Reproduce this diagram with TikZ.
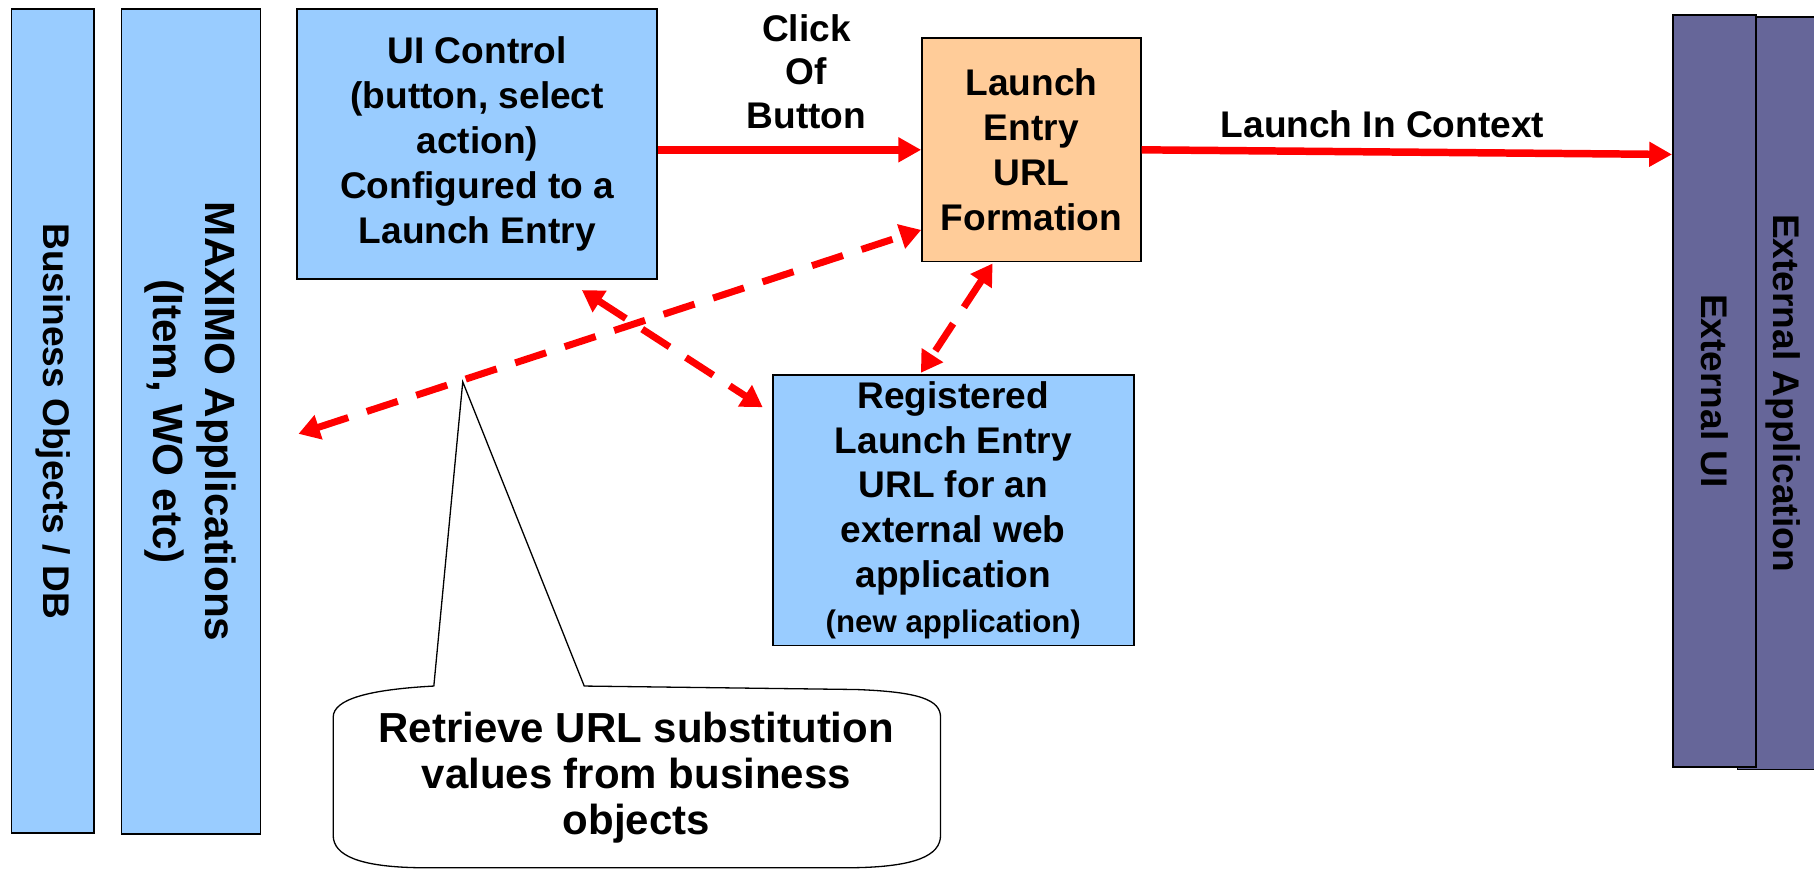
\documentclass[tikz,border=0pt]{standalone}
\usepackage{fontspec}
\setmainfont{Liberation Sans}
\usetikzlibrary{arrows.meta,calc}
\definecolor{paleblue}{HTML}{99CCFF}
\definecolor{peach}{HTML}{FFCC99}
\definecolor{slate}{HTML}{666699}
\begin{document}
\begin{tikzpicture}[x=0.025cm,y=-0.025cm,
    font=\bfseries\fontsize{22.8}{27.6}\selectfont,
    box/.style={draw=black,line width=1pt,align=center,inner sep=0pt},
    bluebox/.style={box,fill=paleblue},
    bar/.style={box,rotate=-90},
    redline/.style={red,line width=4.6pt,-{Triangle[length=14pt,width=14.5pt]}},
    reddash/.style={red,line width=4.3pt,{Triangle[length=13pt,width=15pt]}-{Triangle[length=13pt,width=15pt]},dash pattern=on 20pt off 12pt}]
      \useasboundingbox (0,0) rectangle (1568,752);
      \node[bar,fill=paleblue,minimum width=17.8cm,minimum height=1.775cm] at (45.5,364) (bo) {Business Objects / DB};
      \node[bar,fill=paleblue,minimum width=17.825cm,minimum height=3cm,font=\bfseries\fontsize{26}{32}\selectfont] at (165,364.5) (maximo) {MAXIMO Applications\\(Item, WO etc)};
      \node[bluebox,minimum width=7.775cm,minimum height=5.825cm] at (412.5,124.5) (ui) {UI Control\\(button, select\\action)\\Configured to a\\Launch Entry};
      \node[box,fill=peach,minimum width=4.725cm,minimum height=4.825cm] at (891.5,129.5) (launch) {Launch\\Entry\\URL\\Formation};
      \node[bluebox,minimum width=7.8cm,minimum height=5.85cm] at (824,441) (reg) {Registered\\Launch Entry\\URL for an\\external web\\application\\{\fontsize{19.2}{24}\selectfont(new application)}};
      \node[bar,fill=slate,minimum width=16.25cm,minimum height=1.95cm] at (1541,340) (extapp) {External Application};
      \node[bar,fill=slate,minimum width=16.25cm,minimum height=1.8cm] at (1482,338) (extui) {External UI};
      \node[align=center,font=\bfseries\fontsize{22.8}{26.7}\selectfont] at (697,62) (click) {Click\\Of\\Button};
      \node at (1195,107) (context) {Launch In Context};
      \draw[redline] (ui.east |- launch.west) -- (launch.west);
      \draw[redline] (launch.east) -- ($(launch.east -| extui.south)+(0,4)$);
      \coordinate (mxend) at (258,375);
      \draw[reddash] (mxend) -- ($(launch.south west)+(0,-28)$);
      \draw[reddash] ($(ui.south)+(90.5,9)$) -- ($(reg.west)+(-8,-89)$);
      \draw[reddash] ($(launch.south)+(-33.5,1)$) -- ($(reg.north)+(-28,-1)$);
      \coordinate (tip) at (400,330);
      \draw[line width=0.8pt,fill=white] (tip) -- (505,593) -- (740,596) .. controls (795,598) and (813,605) .. (813,620) -- (813,722) .. controls (813,740) and (790,749) .. (740,750) -- (360,750) .. controls (312,749) and (288,740) .. (288,722) -- (288,620) .. controls (288,604) and (320,596) .. (375,593) -- cycle;
      \node[align=center,font=\bfseries\fontsize{25.8}{28.1}\selectfont] at (550,672) (note) {Retrieve URL substitution\\values from business\\objects};
\end{tikzpicture}
\end{document}
